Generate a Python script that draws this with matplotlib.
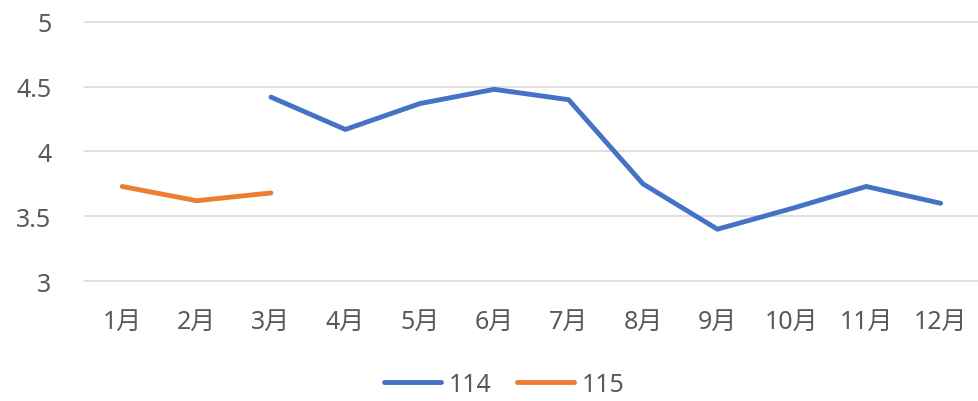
import numpy as np
import matplotlib.pyplot as plt

plt.rcParams['font.family'] = ['Noto Sans', 'Noto Sans CJK JP', 'DejaVu Sans']

months = ['1月', '2月', '3月', '4月', '5月', '6月', '7月', '8月', '9月', '10月', '11月', '12月']
s114 = [np.nan, np.nan, 4.42, 4.17, 4.37, 4.48, 4.40, 3.75, 3.40, 3.56, 3.73, 3.60]
s115 = [3.73, 3.62, 3.68, np.nan, np.nan, np.nan, np.nan, np.nan, np.nan, np.nan, np.nan, np.nan]

fig = plt.figure(figsize=(9.79, 4.02), dpi=100)
ax = fig.add_axes([0.0868, 0.2985, 0.912, 0.6443])

x = np.arange(len(months))
ax.plot(x, s114, color='#4472C4', lw=3.5, label='114', solid_capstyle='round')
ax.plot(x, s115, color='#ED7D31', lw=3.5, label='115', solid_capstyle='round')

ax.set_xlim(-0.5, len(months) - 0.5)
ax.set_ylim(3, 5)
ax.set_yticks([3, 3.5, 4, 4.5, 5])
ax.set_yticklabels(['3', '3.5', '4', '4.5', '5'])
ax.set_xticks(x)
ax.set_xticklabels(months)
for v in [3, 3.5, 4, 4.5, 5]:
    ax.axhline(v, color='#D9D9D9', lw=1.2, zorder=0, clip_on=False)
for s in ax.spines.values():
    s.set_visible(False)
ax.tick_params(length=0, colors='#595959', labelsize=18)
ax.tick_params(axis='y', pad=24)
ax.tick_params(axis='x', pad=20)

fig.legend(loc='lower center', bbox_to_anchor=(0.515, -0.045), ncol=2, frameon=False,
           fontsize=18, labelcolor='#595959', handlelength=2.3, handletextpad=0.3,
           columnspacing=1.0)

fig.savefig('out.png', dpi=100)
